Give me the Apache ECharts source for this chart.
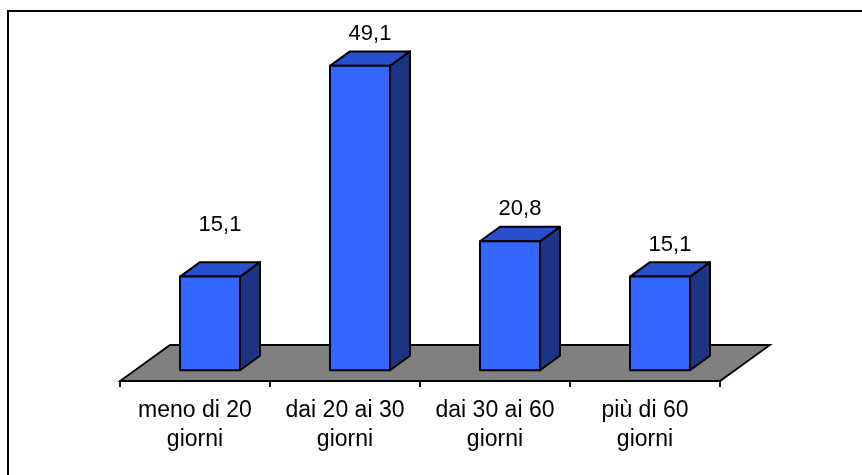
<!DOCTYPE html>
<html>
<head>
<meta charset="utf-8">
<script src="https://cdn.jsdelivr.net/npm/echarts@6/dist/echarts.min.js"></script>
<style>
  html, body { margin: 0; padding: 0; background: #ffffff; }
  #chart { width: 862px; height: 475px; }
</style>
</head>
<body>
<div id="chart"></div>
<script>
// Categories and values (percent)
const categories = ['meno di 20\ngiorni', 'dai 20 ai 30\ngiorni', 'dai 30 ai 60\ngiorni', 'più di 60\ngiorni'];
const values = [15.1, 49.1, 20.8, 15.1];

// Pseudo-3D layout: depth vector of the floor and where the bars sit inside it
const DEPTH = [50, -36];
const BAR_FRONT = 0.3;
const BAR_BACK = 0.7;
const BAR_WIDTH_RATIO = 0.4;
const LABEL_GAP = 17.5;
const labelLift = [20, 0, 0, 0];

const FONT = 'Liberation Sans, Arial, sans-serif';

function fmt(v) {
  return v.toFixed(1).replace('.', ',');
}

// Grey floor plane spanning the whole category axis
function renderFloor(params, api) {
  const cs = params.coordSys;
  const y0 = api.coord([0, 0])[1];
  const x0 = cs.x;
  const x1 = cs.x + cs.width;
  return {
    type: 'polygon',
    shape: {
      points: [
        [x0, y0], [x1, y0],
        [x1 + DEPTH[0], y0 + DEPTH[1]],
        [x0 + DEPTH[0], y0 + DEPTH[1]]
      ]
    },
    style: { fill: '#808080', stroke: '#000000', lineWidth: 1.8 }
  };
}

// Box-shaped bar: front, top and right side faces plus its value label
function renderBar(params, api) {
  const i = api.value(0);
  const v = api.value(1);
  const base = api.coord([i, 0]);
  const top = api.coord([i, v]);
  const w = api.size([1, 0])[0] * BAR_WIDTH_RATIO;
  const fx = base[0] - w / 2 + DEPTH[0] * BAR_FRONT;
  const fy0 = base[1] + DEPTH[1] * BAR_FRONT;
  const fy1 = top[1] + DEPTH[1] * BAR_FRONT;
  const dx = DEPTH[0] * (BAR_BACK - BAR_FRONT);
  const dy = DEPTH[1] * (BAR_BACK - BAR_FRONT);
  const edge = { stroke: '#000000', lineWidth: 2, lineJoin: 'round' };
  return {
    type: 'group',
    children: [
      {
        type: 'polygon',
        shape: { points: [[fx + w, fy1], [fx + w + dx, fy1 + dy], [fx + w + dx, fy0 + dy], [fx + w, fy0]] },
        style: Object.assign({ fill: '#1b3484' }, edge)
      },
      {
        type: 'polygon',
        shape: { points: [[fx, fy1], [fx + w, fy1], [fx + w + dx, fy1 + dy], [fx + dx, fy1 + dy]] },
        style: Object.assign({ fill: '#2850cc' }, edge)
      },
      {
        type: 'rect',
        shape: { x: fx, y: fy1, width: w, height: fy0 - fy1 },
        style: Object.assign({ fill: '#3366ff' }, edge)
      },
      {
        type: 'text',
        style: {
          x: fx + w / 2 + dx / 2,
          y: fy1 + dy - LABEL_GAP - labelLift[i],
          text: fmt(v),
          fill: '#000000',
          font: '22px ' + FONT,
          align: 'center',
          verticalAlign: 'middle'
        }
      }
    ]
  };
}

const chart = echarts.init(document.getElementById('chart'));
chart.setOption({
  animation: false,
  backgroundColor: '#ffffff',
  grid: { left: 120, right: 142, top: 71, bottom: 94 },
  xAxis: {
    type: 'category',
    data: categories,
    z: 5,
    axisLine: { lineStyle: { color: '#000000', width: 1.8 } },
    axisTick: { show: true, length: 6, lineStyle: { color: '#000000', width: 1.8 } },
    axisLabel: {
      color: '#000000',
      fontSize: 23,
      lineHeight: 29,
      margin: 15,
      fontFamily: FONT,
      interval: 0
    }
  },
  yAxis: {
    type: 'value',
    min: 0,
    max: 50,
    show: false,
    splitLine: { show: false }
  },
  graphic: [
    {
      type: 'rect',
      silent: true,
      shape: { x: 8, y: 11, width: 900, height: 500 },
      style: { fill: 'none', stroke: '#000000', lineWidth: 2 }
    }
  ],
  series: [
    {
      type: 'custom',
      z: 1,
      clip: false,
      renderItem: renderFloor,
      data: [[0, 0]]
    },
    {
      type: 'custom',
      z: 3,
      clip: false,
      renderItem: renderBar,
      data: values.map((v, i) => [i, v])
    }
  ]
});
</script>
</body>
</html>
